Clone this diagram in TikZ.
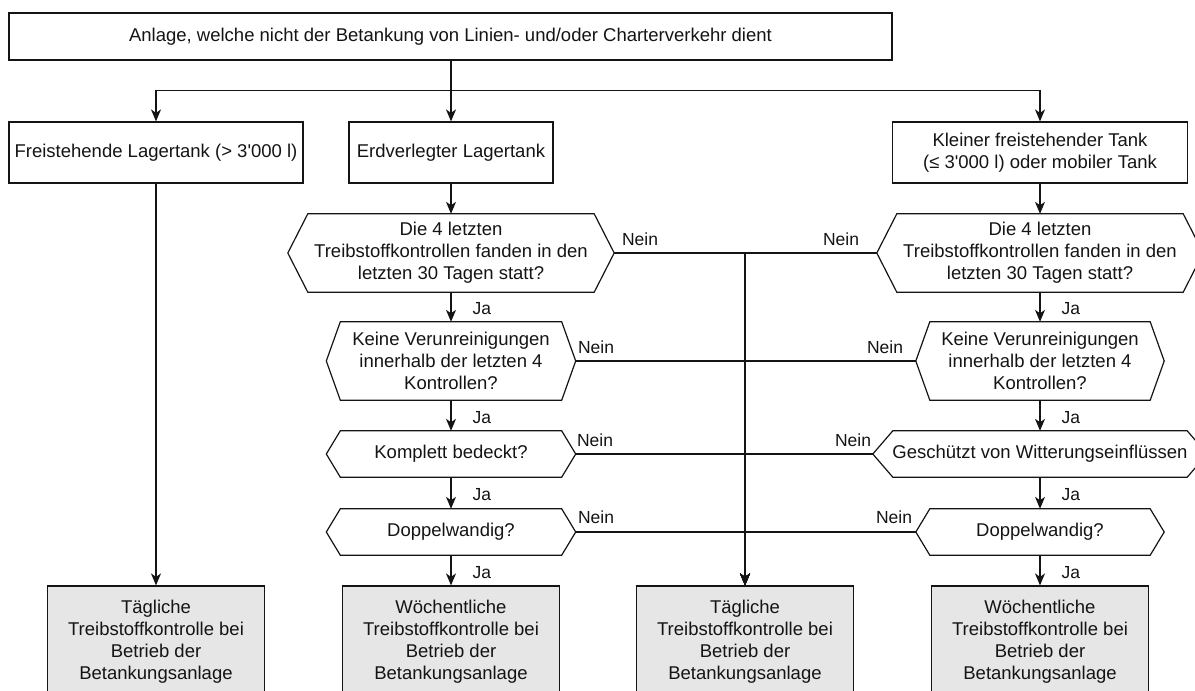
\documentclass[tikz,border=0pt]{standalone}
\usepackage{fontspec}
\setmainfont{Liberation Sans}
\usetikzlibrary{arrows.meta,calc}
\definecolor{boxgray}{RGB}{230,230,230}
\definecolor{ink}{RGB}{20,20,20}
\newcommand\hexoutline[2]{\draw[hexline] ([xshift=#2]#1.north west) -- ([xshift=-#2]#1.north east) -- (#1.east) -- ([xshift=-#2]#1.south east) -- ([xshift=#2]#1.south west) -- (#1.west) -- cycle;}
\begin{document}
\begin{tikzpicture}[x=1pt,y=-1pt,
  font=\fontsize{18.5}{22}\selectfont,
  every node/.style={text=ink},
  box/.style={draw=ink, line width=1.2pt, inner sep=0pt, align=center},
  res/.style={box, fill=boxgray, minimum width=217pt, minimum height=112pt},
  hexa/.style={inner sep=0pt, align=center},
  hexline/.style={draw=ink, line width=1.2pt, line join=miter},
  arr/.style={draw=ink, line width=1.2pt, -{Stealth[length=12pt,width=10pt,inset=3.5pt]}},
  lbl/.style={inner sep=0pt, font=\fontsize{17.5}{20}\selectfont},
  ja/.style={lbl, anchor=west, xshift=21pt, yshift=-2pt}]
\useasboundingbox (0,0) rectangle (1195,691);
\clip (0,0) rectangle (1195,691);

% top level
\node[box, minimum width=883pt, minimum height=47pt] (top) at (450.5,36.5) {Anlage, welche nicht der Betankung von Linien- und/oder Charterverkehr dient};
\node[box, minimum width=294pt, minimum height=61pt] (frei) at (156,152.5) {Freistehende Lagertank (> 3\textquotesingle000 l)};
\node[box, minimum width=204pt, minimum height=61pt] (erd) at (451,152.5) {Erdverlegter Lagertank};
\node[box, minimum width=295pt, minimum height=61pt] (klein) at (1040,152.5) {Kleiner freistehender Tank\\(≤ 3\textquotesingle000 l) oder mobiler Tank};

% left decision column
\node[hexa, minimum width=326pt, minimum height=78pt] (L1) at (451,253) {Die 4 letzten\\Treibstoffkontrollen fanden in den\\letzten 30 Tagen statt?};
\hexoutline{L1}{20pt}
\node[hexa, minimum width=249pt, minimum height=78pt] (L2) at (451,361) {Keine Verunreinigungen\\innerhalb der letzten 4\\Kontrollen?};
\hexoutline{L2}{14pt}
\node[hexa, minimum width=249pt, minimum height=46pt] (L3) at (451,454) {Komplett bedeckt?};
\hexoutline{L3}{14pt}
\node[hexa, minimum width=249pt, minimum height=46pt] (L4) at (451,532) {Doppelwandig?};
\hexoutline{L4}{14pt}

% right decision column
\node[hexa, minimum width=326pt, minimum height=78pt] (R1) at (1040,253) {Die 4 letzten\\Treibstoffkontrollen fanden in den\\letzten 30 Tagen statt?};
\hexoutline{R1}{20pt}
\node[hexa, minimum width=248pt, minimum height=78pt] (R2) at (1040,361) {Keine Verunreinigungen\\innerhalb der letzten 4\\Kontrollen?};
\hexoutline{R2}{14pt}
\node[hexa, minimum width=334pt, minimum height=46pt] (R3) at (1040,454) {Geschützt von Witterungseinflüssen};
\hexoutline{R3}{20pt}
\node[hexa, minimum width=248pt, minimum height=46pt] (R4) at (1040,532) {Doppelwandig?};
\hexoutline{R4}{14pt}

% results
\node[res] (B1) at (156,642) {Tägliche\\Treibstoffkontrolle bei\\Betrieb der\\Betankungsanlage};
\node[res] (B2) at (451,642) {Wöchentliche\\Treibstoffkontrolle bei\\Betrieb der\\Betankungsanlage};
\node[res] (B3) at (745,642) {Tägliche\\Treibstoffkontrolle bei\\Betrieb der\\Betankungsanlage};
\node[res] (B4) at (1040,642) {Wöchentliche\\Treibstoffkontrolle bei\\Betrieb der\\Betankungsanlage};

% connectors from the top
\draw[arr] (erd.north |- top.south) -- (erd.north);
\draw[arr] (erd.north |- top.south) -- ++(0,30) -| (frei.north);
\draw[arr] (erd.north |- top.south) -- ++(0,30) -| (klein.north);
\draw[arr] (frei.south) -- (B1.north);
\draw[arr] (erd.south) -- (L1.north);
\draw[arr] (klein.south) -- (R1.north);

% Ja chain
\draw[arr] (L1.south) -- node[ja]{Ja} (L2.north);
\draw[arr] (L2.south) -- node[ja]{Ja} (L3.north);
\draw[arr] (L3.south) -- node[ja]{Ja} (L4.north);
\draw[arr] (L4.south) -- node[ja]{Ja} (B2.north);
\draw[arr] (R1.south) -- node[ja]{Ja} (R2.north);
\draw[arr] (R2.south) -- node[ja]{Ja} (R3.north);
\draw[arr] (R3.south) -- node[ja]{Ja} (R4.north);
\draw[arr] (R4.south) -- node[ja]{Ja} (B4.north);

% Nein branches
\draw[arr] (L1.east) -| (B3.north) node[lbl] at (640,239) {Nein};
\draw[arr] (L2.east) -| (B3.north) node[lbl] at (596,347) {Nein};
\draw[arr] (L3.east) -| (B3.north) node[lbl] at (595,440) {Nein};
\draw[arr] (L4.east) -| (B3.north) node[lbl] at (596,517) {Nein};
\draw[arr] (R1.west) -| (B3.north) node[lbl] at (841,239) {Nein};
\draw[arr] (R2.west) -| (B3.north) node[lbl] at (885,347) {Nein};
\draw[arr] (R3.west) -| (B3.north) node[lbl] at (853,440) {Nein};
\draw[arr] (R4.west) -| (B3.north) node[lbl] at (894,517) {Nein};
\end{tikzpicture}
\end{document}
